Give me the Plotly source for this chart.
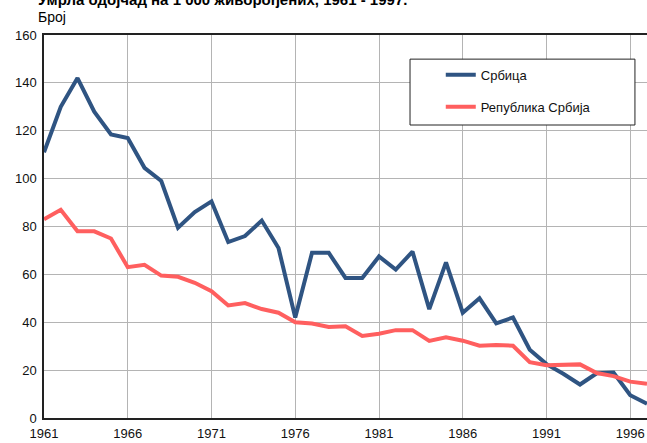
import plotly.graph_objects as go

years = list(range(1961, 1998))
srbica = [111, 130, 142, 128, 118.5, 117, 104.5, 99, 79.5, 86, 90.5, 73.5, 76, 82.5, 71, 42,
          69, 69, 58.5, 58.5, 67.5, 62, 69.5, 45.5, 65, 44, 50, 39.5, 42, 28.5, 22.5, 18.5,
          14, 18.7, 19, 9.5, 6]
srbija = [83, 87, 78, 78, 75, 63, 64, 59.5, 59, 56.5, 53, 47, 48, 45.5, 44, 40,
          39.5, 38, 38.3, 34.3, 35.2, 36.7, 36.7, 32.2, 33.7, 32.3, 30.2, 30.5, 30.2, 23.3, 22,
          22.4, 22.4, 18.8, 17.5, 15.2, 14.3]
x_ticks = [1961, 1966, 1971, 1976, 1981, 1986, 1991, 1996]
y_ticks = [0, 20, 40, 60, 80, 100, 120, 140, 160]

title = "Умрла одојчад на 1 000 живорођених, 1961 - 1997."
font = "Liberation Sans, Arial, sans-serif"

fig = go.Figure()
fig.add_trace(go.Scatter(x=years, y=srbica, mode="lines", name="Србица",
                         line=dict(color="#2f5482", width=4), legendgroup="a"))
fig.add_trace(go.Scatter(x=years, y=srbija, mode="lines", name="Република Србија",
                         line=dict(color="#ff5f5f", width=4), legendgroup="b"))

fig.update_layout(
    width=647, height=443,
    margin=dict(l=44, r=0, t=35, b=25),
    paper_bgcolor="white", plot_bgcolor="white",
    font=dict(family=font, size=13, color="#111"),
    showlegend=True,
    legend=dict(x=0.658, y=0.935, xanchor="left", yanchor="top",
                bgcolor="rgba(0,0,0,0)", borderwidth=0,
                font=dict(size=13), tracegroupgap=12, itemwidth=30),
    xaxis=dict(range=[1961, 1997], tickvals=x_ticks, showgrid=True,
               gridcolor="#b4b4b4", gridwidth=1, showline=True, linecolor="#222",
               linewidth=1.5, mirror=True, ticks="", zeroline=False,
               tickfont=dict(size=13), ticklabelstandoff=3),
    yaxis=dict(range=[0, 160], tickvals=y_ticks, showgrid=True,
               gridcolor="#b4b4b4", gridwidth=1, showline=True, linecolor="#222",
               linewidth=1.5, ticks="", zeroline=False, tickfont=dict(size=13),
               ticklabelstandoff=3),
    shapes=[
        dict(type="rect", xref="paper", yref="paper", x0=0.607, x1=0.980,
             y0=0.765, y1=0.937, line=dict(color="#222", width=1),
             fillcolor="white", layer="above"),
    ],
    annotations=[
        dict(text="<b>" + title + "</b>", xref="paper", yref="paper", x=-0.013, y=1,
             xanchor="left", yanchor="middle", yshift=36, showarrow=False,
             font=dict(size=15, color="#000")),
        dict(text="Број", xref="paper", yref="paper", x=-0.013, y=1,
             xanchor="left", yanchor="middle", yshift=18, showarrow=False,
             font=dict(size=14, color="#000")),
    ],
)

fig.write_html("out.html", config={"displayModeBar": False},
               post_script="document.body.style.margin='0';")
